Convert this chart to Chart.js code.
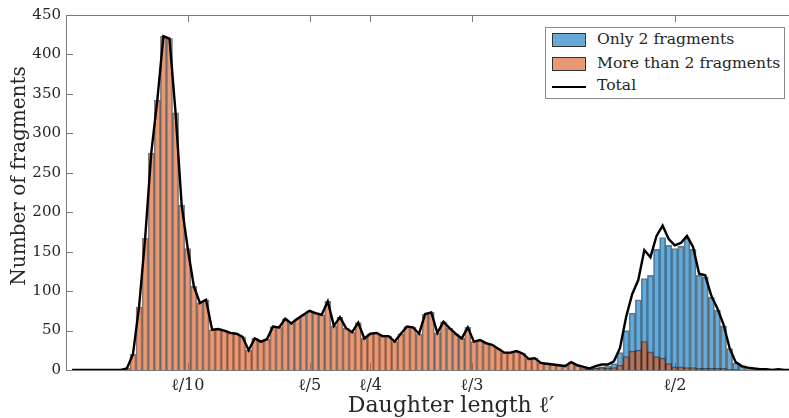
<!DOCTYPE html>
<html><head><meta charset="utf-8">
<script src="https://cdn.jsdelivr.net/npm/chart.js@4/dist/chart.umd.min.js"></script>
<style>
html,body{margin:0;padding:0;background:#fff;overflow:hidden}
#wrap{position:relative;width:789px;height:418px;overflow:hidden}
#legend{position:absolute;left:545px;top:27px;width:240px;height:72px;border:1px solid #8a8a8a;background:#fff;font-family:"DejaVu Serif";font-size:15.6px;color:#262626;box-sizing:border-box}
.sw{position:absolute;left:6px;width:34px;height:14px;border:1px solid #333;box-sizing:border-box}
.ln{position:absolute;left:6px;width:34px;height:0;border-top:2px solid #000}
.txt{position:absolute;left:51px;white-space:nowrap;line-height:18px}
</style></head>
<body>
<div id="wrap">
<canvas id="c" width="836" height="418"></canvas>
<div id="legend">
  <div class="sw" style="top:5px;background:rgba(0,114,189,0.6)"></div><div class="txt" style="top:2px">Only 2 fragments</div>
  <div class="sw" style="top:29px;background:rgba(217,83,25,0.6)"></div><div class="txt" style="top:26px">More than 2 fragments</div>
  <div class="ln" style="top:58px"></div><div class="txt" style="top:48px">Total</div>
</div>
</div>
<script>
// bin centres (daughter length, fraction of ℓ)
const binCenters = [0.005,0.010,0.015,0.020,0.025,0.030,0.035,0.040,0.045,0.050,
0.055,0.060,0.065,0.070,0.075,0.080,0.085,0.090,0.095,0.100,
0.105,0.110,0.115,0.120,0.125,0.130,0.135,0.140,0.145,0.150,
0.155,0.160,0.165,0.170,0.175,0.180,0.185,0.190,0.195,0.200,
0.205,0.210,0.215,0.220,0.225,0.230,0.235,0.240,0.245,0.250,
0.255,0.260,0.265,0.270,0.275,0.280,0.285,0.290,0.295,0.300,
0.305,0.310,0.315,0.320,0.325,0.330,0.335,0.340,0.345,0.350,
0.355,0.360,0.365,0.370,0.375,0.380,0.385,0.390,0.395,0.400,
0.405,0.410,0.415,0.420,0.425,0.430,0.435,0.440,0.445,0.450,
0.455,0.460,0.465,0.470,0.475,0.480,0.485,0.490,0.495,0.500,
0.505,0.510,0.515,0.520,0.525,0.530,0.535,0.540,0.545,0.550,
0.555,0.560,0.565,0.570,0.575,0.580,0.585,0.590,0.595];

const moreThan2 = [0,0,0,0,0,0,0,0,0,2,
20,80,167,275,342,423,420,326,209,154,
106,85,89,51,52,50,47,46,42,25,
40,36,39,55,54,65,59,65,70,75,
72,70,87,56,67,53,48,60,40,46,
47,43,43,36,46,55,54,46,71,73,
47,61,53,46,40,54,36,38,34,32,
27,22,22,24,21,14,15,9,8,7,
6,5,10,6,3,1,2,3,2,3,
6,17,24,25,36,23,17,15,8,4,
4,3,3,2,2,2,2,2,1,1,
0,0,0,0,0,0,0,0,0];

const only2 = [0,0,0,0,0,0,0,0,0,0,
0,0,0,0,0,0,0,0,0,0,
0,0,0,0,0,0,0,0,0,0,
0,0,0,0,0,0,0,0,0,0,
0,0,0,0,0,0,0,0,0,0,
0,0,0,0,0,0,0,0,0,0,
0,0,0,0,0,0,0,0,0,0,
0,0,0,0,0,0,0,0,0,0,
0,0,0,0,1,1,3,4,5,8,
22,50,72,89,116,120,153,168,158,154,
157,167,153,120,118,92,76,56,27,9,
5,3,2,1,1,0,1,0,0];

const total = [0,0,0,0,0,0,0,0,0,2,
20,80,167,275,342,423,420,326,209,154,
106,85,89,51,52,50,47,46,42,25,
40,36,39,55,54,65,59,65,70,75,
72,70,87,56,67,53,48,60,40,46,
47,43,43,36,46,55,54,46,71,73,
47,61,53,46,40,54,36,38,34,32,
27,22,22,24,21,14,15,9,8,7,
6,5,10,6,4,2,5,7,7,11,
28,67,96,114,152,143,170,183,166,158,
161,170,156,122,120,94,78,58,28,10,
5,3,2,1,1,0,1,0,0];

const xTickValues = [0.1, 0.2, 0.25, 1/3, 0.5];
const xTickLabels = ['ℓ/10', 'ℓ/5', 'ℓ/4', 'ℓ/3', 'ℓ/2'];
const yTickValues = [0,50,100,150,200,250,300,350,400,450];
const yTitle = 'Number of fragments';

const AXIS = '#7a7a7a';
const TEXT = '#262626';
const FONT = '"DejaVu Serif", serif';

const pts = arr => arr.map((v,i)=>({x: binCenters[i], y: v}));

const innerTicks = {
  id: 'innerTicks',
  beforeDatasetsDraw(chart){
    const {ctx, chartArea:a, scales:{x, y}} = chart;
    ctx.save();
    ctx.strokeStyle = AXIS; ctx.lineWidth = 1;
    ctx.beginPath();
    x.ticks.forEach(t => {
      const px = Math.round(x.getPixelForValue(t.value)) + 0.5;
      ctx.moveTo(px, a.bottom); ctx.lineTo(px, a.bottom - 7);
      ctx.moveTo(px, a.top); ctx.lineTo(px, a.top + 7);
    });
    y.ticks.forEach(t => {
      const py = Math.round(y.getPixelForValue(t.value)) + 0.5;
      ctx.moveTo(a.left, py); ctx.lineTo(a.left + 7, py);
    });
    ctx.moveTo(a.left, Math.round(a.top) + 0.5); ctx.lineTo(chart.width, Math.round(a.top) + 0.5);
    ctx.stroke();
    ctx.restore();
  },
  afterDraw(chart){
    const ctx = chart.ctx;
    ctx.save();
    ctx.translate(19.5, 176);
    ctx.rotate(-Math.PI/2);
    ctx.fillStyle = TEXT;
    ctx.font = '20px ' + FONT;
    ctx.textAlign = 'center'; ctx.textBaseline = 'middle';
    ctx.fillText(yTitle, 0, 0);
    ctx.restore();
  }
};

new Chart(document.getElementById('c'), {
  type: 'bar',
  data: {
    datasets: [
      { label: 'Only 2 fragments', data: pts(only2), order: 3,
        backgroundColor: 'rgba(0,114,189,0.6)', borderColor: 'rgba(20,20,20,0.55)', borderWidth: 1,
        barPercentage: 1, categoryPercentage: 1, grouped: false },
      { label: 'More than 2 fragments', data: pts(moreThan2), order: 2,
        backgroundColor: 'rgba(217,83,25,0.6)', borderColor: 'rgba(20,20,20,0.55)', borderWidth: 1,
        barPercentage: 1, categoryPercentage: 1, grouped: false },
      { type: 'line', label: 'Total', data: pts(total), order: 1,
        borderColor: '#000', borderWidth: 2.4, pointRadius: 0, tension: 0, fill: false }
    ]
  },
  options: {
    responsive: false, animation: false,
    layout: { padding: { top: 15, right: 0, left: 0, bottom: 0 } },
    plugins: { legend: { display: false }, tooltip: { enabled: false } },
    scales: {
      x: {
        type: 'linear', min: 0, max: 0.6324, offset: false,
        afterFit: s => { s.height = 48; },
        afterBuildTicks: s => { s.ticks = xTickValues.map(v => ({ value: v })); },
        grid: { display: false, drawTicks: false },
        border: { display: true, color: AXIS, width: 1 },
        ticks: { autoSkip: false, maxRotation: 0, padding: 6, color: TEXT,
          font: { family: FONT, size: 16 },
          callback: (v, i) => xTickLabels[i] },
        title: { display: true, text: 'Daughter length ℓ′', color: TEXT,
          font: { family: FONT, size: 22 }, padding: { top: 0, bottom: -1 } }
      },
      y: {
        min: 0, max: 450,
        afterFit: s => { s.width = 66; },
        afterBuildTicks: s => { s.ticks = yTickValues.map(v => ({ value: v })); },
        grid: { display: false, drawTicks: false },
        border: { display: true, color: AXIS, width: 1 },
        ticks: { padding: 5, color: TEXT, font: { family: FONT, size: 15 } },
        title: { display: false }
      }
    }
  },
  plugins: [innerTicks]
});
</script>
</body></html>
